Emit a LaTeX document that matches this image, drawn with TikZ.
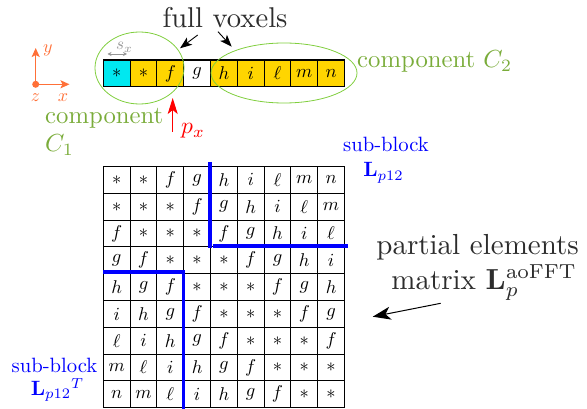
\documentclass[tikz,border=0pt]{standalone}
\usetikzlibrary{arrows.meta,shapes.geometric}

\definecolor{voxgold}{RGB}{255,213,0}
\definecolor{voxcyan}{RGB}{0,232,240}
\definecolor{compgreen}{RGB}{122,172,58}
\definecolor{ringgreen}{RGB}{128,206,62}
\definecolor{axisorange}{RGB}{255,112,56}
\definecolor{labelgray}{RGB}{45,45,45}
\definecolor{pitchgray}{RGB}{150,150,150}

% entry of the Toeplitz matrix for the offset |i-j|
\newcommand{\seqsym}[1]{\ifcase#1 $*$\or $*$\or $f$\or $g$\or $h$\or $i$\or $\ell$\or $m$\or $n$\fi}
% text set at 10pt and enlarged, so the 10pt design is kept
\newcommand{\enl}[2]{\scalebox{#1}{#2}}

\begin{document}
\begin{tikzpicture}[x=1pt,y=-1pt,
  every node/.style={inner sep=0pt,font=\fontsize{10}{12}\selectfont},
  cellbox/.style={draw=black,line width=1.1pt,minimum width=26.8pt,minimum height=26.8pt},
  bigtext/.style={text=labelgray},
  greentext/.style={text=compgreen},
  bluetext/.style={text=blue},
  axislabel/.style={text=axisorange},
  ring/.style={draw=ringgreen,line width=0.8pt,ellipse},
  blockline/.style={draw=blue,line width=3.5pt},
  pointer/.style={-{Stealth[length=12pt,width=9pt,inset=3pt]},line width=0.9pt,black},
  axisarrow/.style={-{Stealth[length=9pt,width=8pt,inset=2pt]},line width=1.3pt,axisorange},
]
\useasboundingbox (0,0) rectangle (587,409);

% row of voxels along x
\foreach \k/\sym/\fc in {0/*/voxcyan,1/*/voxgold,2/f/voxgold,3/g/white,4/h/voxgold,
                         5/i/voxgold,6/\ell/voxgold,7/m/voxgold,8/n/voxgold}
  \node[cellbox,fill=\fc] (v\k) at (116.7+26.8*\k,73.4) {\enl{1.85}{$\sym$}};

% components
\node[ring,minimum width=89pt,minimum height=72pt] (c1) at (139.5,68) {};
\node[ring,minimum width=146pt,minimum height=60pt] (c2) at (284,73) {};
\node[greentext,anchor=base west] (c2lbl) at (357,67.7) {\enl{2.47}{component $C_2$}};
\node[greentext,anchor=base west] (c1lbl) at (45,123.3) {\enl{2.47}{component}};
\node[greentext,anchor=base west] (c1sym) at (45,152) {\enl{2.47}{$C_1$}};

% full voxels
\node[bigtext,anchor=base] (fv) at (225,28) {\enl{2.86}{full voxels}};
\coordinate (fvA) at (197.7,35);
\coordinate (fvB) at (218,31.7);
\coordinate (tipA) at (180,48.3);
\coordinate (tipB) at (231.7,46.7);
\draw[pointer] (fvA) -- (tipA);
\draw[pointer] (fvB) -- (tipB);

% voxel pitch
\node[text=pitchgray,anchor=base west] (sx) at (116,50) {\enl{1.7}{$s_x$}};
\coordinate (sxL) at (107.5,54);
\coordinate (sxR) at (127,54);
\draw[{Stealth[length=4pt,width=4pt]}-{Stealth[length=4pt,width=4pt]},pitchgray,line width=0.8pt] (sxL) -- (sxR);

% position p_x
\coordinate (pxTail) at (172.7,132);
\coordinate (pxTip) at (172.7,98);
\draw[-{Stealth[length=16pt,width=10pt,inset=4pt]},red,line width=1pt] (pxTail) -- (pxTip);
\node[text=red,anchor=base west] (px) at (181,134) {\enl{2.35}{$p_x$}};

% axes
\node[circle,fill=axisorange,minimum size=7pt] (org) at (35.7,84.3) {};
\coordinate (ytip) at (35.7,48);
\coordinate (xtip) at (69.5,84.3);
\draw[axisarrow] (org.center) -- (ytip);
\draw[axisarrow] (org.center) -- (xtip);
\node[axislabel,anchor=base west] (ylbl) at (43,53) {\enl{1.8}{$y$}};
\node[axislabel,anchor=base] (zlbl) at (35.5,101.5) {\enl{1.8}{$z$}};
\node[axislabel,anchor=base] (xlbl) at (63,101.5) {\enl{1.8}{$x$}};

% Toeplitz matrix
\foreach \r in {0,...,8}
  \foreach \c in {0,...,8}{
    \pgfmathtruncatemacro\off{abs(\r-\c)}
    \node[cellbox] (m-\r-\c) at (116.7+26.8*\c,179.9+26.8*\r) {\enl{1.85}{\seqsym{\off}}};
  }

% sub-block borders
\draw[blockline] ([yshift=4pt]m-0-4.north west) -- ([yshift=-1pt]m-2-4.south west);
\draw[blockline] ([xshift=3pt,yshift=1.5pt]m-2-4.south west) -- ([xshift=2.5pt,yshift=1.5pt]m-2-8.south east);
\draw[blockline,line join=miter] ([yshift=1pt]m-4-0.north west) -- ([xshift=-1pt,yshift=1pt]m-4-2.north east)
  -- ([xshift=-1pt,yshift=-2pt]m-8-2.south east);

% sub-block labels
\node[bluetext,anchor=base] (sb1) at (386,151.7) {\enl{2.07}{sub-block}};
\node[bluetext,anchor=base] (sb1L) at (383.5,177) {\enl{2.07}{$\mathbf{L}_{p12}$}};
\node[bluetext,anchor=base] (sb2) at (54.5,372.5) {\enl{2.07}{sub-block}};
\node[bluetext,anchor=base] (sb2L) at (57.5,395) {\enl{2.07}{${\mathbf{L}_{p12}}^{\raisebox{-1.2pt}{$\scriptstyle T$}}$}};

% matrix label
\node[bigtext,anchor=base east] (pe1) at (579,254.5) {\enl{2.9}{partial elements}};
\node[bigtext,anchor=base east] (pe2) at (577,289.5) {\enl{2.9}{matrix $\mathbf{L}_p^{\mathrm{aoFFT}}$}};
\coordinate (ptr) at (440.7,303.3);
\coordinate (ptrTip) at (372.7,316.7);
\draw[-{Stealth[length=18pt,width=13pt,inset=5pt]},line width=1pt] (ptr) -- (ptrTip);
\end{tikzpicture}
\end{document}
